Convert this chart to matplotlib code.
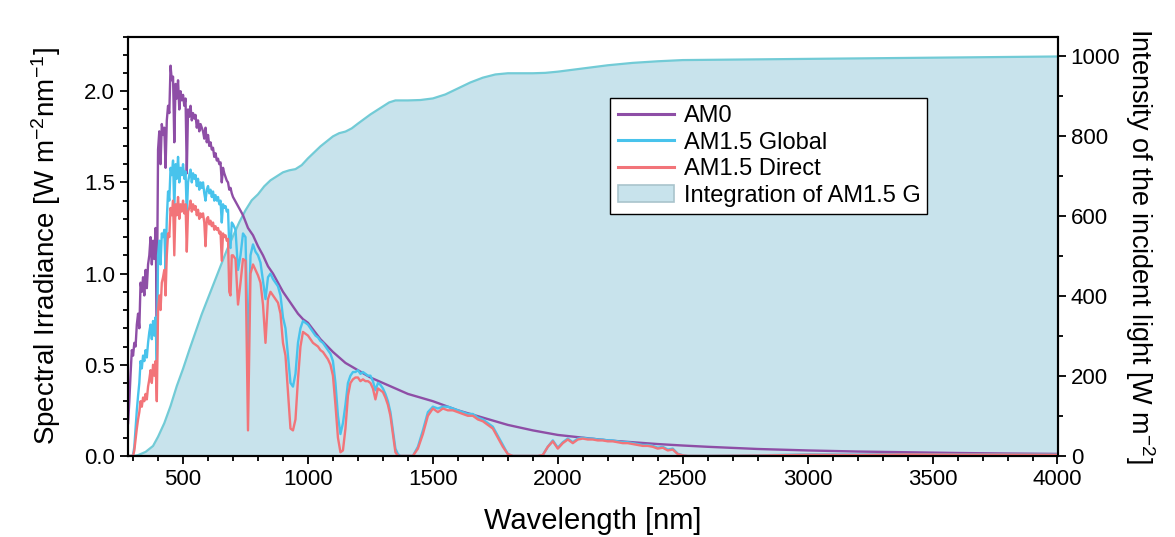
import matplotlib
matplotlib.use("Agg")
import matplotlib.pyplot as plt
from matplotlib.ticker import MultipleLocator
from matplotlib.patches import Patch

# wavelength grids [nm]
wl_vis = list(range(280, 701, 5))
wl_nir = list(range(710, 1401, 10))
wl_swir = list(range(1420, 2601, 20))
wl_ir = list(range(2800, 4001, 200))

# AM0 spectrum [W m-2 nm-1]
am0_vis = [0.18, 0.30, 0.45, 0.58, 0.55, 0.62, 0.60, 0.72, 0.78, 0.70,
           0.95, 0.90, 0.98, 0.88, 1.02, 0.92, 1.05, 1.10, 1.20, 1.05,
           1.18, 1.08, 1.25, 0.76, 1.68, 1.78, 1.60, 1.82, 1.76, 1.80,
           1.58, 1.84, 1.92, 1.88, 2.14, 2.06, 2.08, 1.72, 2.04, 1.96,
           2.06, 1.90, 2.00, 1.95, 1.98, 1.92, 1.96, 1.55, 1.90, 1.86,
           1.92, 1.84, 1.88, 1.85, 1.87, 1.80, 1.84, 1.78, 1.82, 1.80,
           1.78, 1.74, 1.80, 1.72, 1.76, 1.70, 1.72, 1.68, 1.69, 1.64,
           1.66, 1.62, 1.63, 1.60, 1.61, 1.50, 1.58, 1.55, 1.53, 1.51,
           1.50, 1.46, 1.47, 1.44, 1.42]
am0_tail_wl = [720, 740, 760, 780, 800, 820, 840, 860, 880, 900, 920, 940, 960, 980, 1000,
               1050, 1100, 1150, 1200, 1250, 1300, 1350, 1400, 1450, 1500,
               1600, 1700, 1800, 1900, 2000, 2100, 2200, 2300, 2400, 2500, 2600,
               2800, 3000, 3200, 3400, 3600, 3800, 4000]
am0_tail = [1.37, 1.32, 1.25, 1.21, 1.15, 1.10, 1.04, 1.00, 0.95, 0.90, 0.86, 0.82, 0.78, 0.75, 0.73,
            0.64, 0.57, 0.51, 0.47, 0.43, 0.40, 0.37, 0.34, 0.32, 0.30,
            0.25, 0.21, 0.17, 0.14, 0.115, 0.10, 0.085, 0.075, 0.065, 0.057, 0.05,
            0.038, 0.03, 0.024, 0.02, 0.016, 0.013, 0.011]

# AM1.5 Global
global_vis = [0, 0, 0, 0, 0.005, 0.05, 0.15, 0.25, 0.33, 0.40,
              0.52, 0.48, 0.55, 0.52, 0.58, 0.54, 0.62, 0.68, 0.72, 0.64,
              0.74, 0.66, 0.76, 0.48, 1.10, 1.18, 1.05, 1.22, 1.20, 1.24,
              1.02, 1.30, 1.45, 1.40, 1.58, 1.54, 1.62, 1.35, 1.60, 1.52,
              1.64, 1.50, 1.58, 1.54, 1.60, 1.52, 1.56, 1.32, 1.50, 1.54,
              1.57, 1.50, 1.55, 1.52, 1.54, 1.48, 1.52, 1.46, 1.50, 1.47,
              1.50, 1.44, 1.40, 1.46, 1.48, 1.44, 1.46, 1.42, 1.45, 1.40,
              1.43, 1.40, 1.42, 1.38, 1.40, 1.28, 1.38, 1.36, 1.37, 1.34,
              1.35, 1.15, 1.14, 1.28, 1.27]
global_nir = [1.24, 1.02, 1.10, 1.22, 1.20, 0.55, 1.10, 1.16, 1.12, 1.10,
              1.06, 0.96, 0.86, 0.98, 1.00, 0.97, 0.95, 0.93, 0.88, 0.76,
              0.70, 0.55, 0.40, 0.38, 0.45, 0.62, 0.70, 0.74, 0.73, 0.72,
              0.70, 0.68, 0.66, 0.65, 0.63, 0.62, 0.60, 0.58, 0.56, 0.52,
              0.40, 0.22, 0.12, 0.18, 0.28, 0.40, 0.44, 0.46, 0.46, 0.47,
              0.45, 0.46, 0.45, 0.44, 0.44, 0.41, 0.36, 0.40, 0.39, 0.37,
              0.34, 0.30, 0.24, 0.14, 0.04, 0.01, 0, 0, 0, 0]
global_swir = [0.0, 0.05, 0.14, 0.24, 0.27, 0.26, 0.27, 0.27, 0.26, 0.25,
               0.24, 0.23, 0.23, 0.21, 0.20, 0.18, 0.16, 0.11, 0.06, 0.01,
               0, 0, 0, 0, 0, 0, 0.005, 0.05, 0.085, 0.045,
               0.075, 0.095, 0.075, 0.095, 0.10, 0.095, 0.095, 0.09, 0.09, 0.085,
               0.085, 0.08, 0.075, 0.075, 0.07, 0.065, 0.06, 0.06, 0.055, 0.045,
               0.05, 0.035, 0.04, 0.012, 0.004, 0, 0, 0, 0, 0]
global_ir = [0.003, 0.008, 0.007, 0.009, 0.008, 0.008, 0.007]

# AM1.5 Direct
direct_vis = [0, 0, 0, 0, 0, 0.03, 0.09, 0.15, 0.20, 0.24,
              0.30, 0.27, 0.32, 0.30, 0.34, 0.31, 0.38, 0.42, 0.47, 0.40,
              0.50, 0.44, 0.52, 0.30, 0.80, 0.88, 0.80, 0.95, 0.98, 1.02,
              0.88, 1.10, 1.22, 1.20, 1.36, 1.32, 1.40, 1.10, 1.38, 1.32,
              1.42, 1.30, 1.38, 1.34, 1.40, 1.33, 1.38, 1.12, 1.34, 1.36,
              1.40, 1.34, 1.38, 1.35, 1.37, 1.32, 1.35, 1.30, 1.33, 1.31,
              1.33, 1.28, 1.15, 1.30, 1.31, 1.27, 1.29, 1.26, 1.28, 1.24,
              1.26, 1.24, 1.25, 1.22, 1.23, 1.07, 1.22, 1.20, 1.21, 1.18,
              1.19, 0.90, 0.88, 1.10, 1.10]
direct_nir = [1.08, 0.83, 0.95, 1.08, 1.07, 0.14, 1.00, 1.05, 1.02, 0.99,
              0.95, 0.83, 0.62, 0.86, 0.90, 0.88, 0.86, 0.84, 0.78, 0.62,
              0.55, 0.35, 0.15, 0.14, 0.20, 0.42, 0.60, 0.68, 0.67, 0.66,
              0.64, 0.62, 0.61, 0.60, 0.58, 0.57, 0.55, 0.53, 0.50, 0.44,
              0.28, 0.10, 0.02, 0.03, 0.15, 0.33, 0.40, 0.42, 0.43, 0.43,
              0.41, 0.42, 0.41, 0.41, 0.40, 0.37, 0.31, 0.37, 0.36, 0.35,
              0.32, 0.28, 0.22, 0.12, 0.02, 0, 0, 0, 0, 0]
direct_swir = [0.0, 0.04, 0.12, 0.22, 0.26, 0.24, 0.26, 0.25, 0.25, 0.24,
               0.23, 0.22, 0.22, 0.20, 0.19, 0.17, 0.15, 0.10, 0.05, 0.01,
               0, 0, 0, 0, 0, 0, 0.005, 0.05, 0.08, 0.04,
               0.07, 0.09, 0.07, 0.09, 0.095, 0.09, 0.09, 0.085, 0.085, 0.08,
               0.08, 0.075, 0.07, 0.07, 0.065, 0.06, 0.055, 0.055, 0.05, 0.04,
               0.045, 0.03, 0.035, 0.01, 0.003, 0, 0, 0, 0, 0]
direct_ir = [0.002, 0.006, 0.005, 0.008, 0.007, 0.007, 0.006]

# running integral of AM1.5 G [W m-2]
int_wl = [280, 300, 320, 350, 380, 400, 425, 450, 475, 500, 525, 550, 575, 600, 625,
          650, 675, 700, 725, 750, 775, 800, 825, 850, 875, 900, 925, 950, 975, 1000,
          1050, 1100, 1125, 1150, 1175, 1200, 1250, 1300, 1325, 1350, 1400, 1450, 1500,
          1550, 1600, 1650, 1700, 1750, 1800, 1850, 1900, 1950, 2000, 2050, 2100,
          2200, 2300, 2400, 2500, 3000, 3500, 4000]
int_val = [0, 0, 2, 10, 25, 48, 82, 125, 175, 218, 265, 310, 355, 395, 435,
           475, 515, 550, 585, 615, 640, 655, 675, 690, 700, 710, 715, 718, 728, 745,
           775, 800, 808, 812, 820, 832, 855, 875, 885, 890, 890, 891, 895,
           905, 920, 935, 947, 955, 958, 958, 958, 959, 962, 966, 970,
           978, 984, 988, 991, 994, 997, 1000]

atm_wl = wl_vis + wl_nir + wl_swir + wl_ir
am0_wl = wl_vis + am0_tail_wl
am0 = am0_vis + am0_tail
am15g = global_vis + global_nir + global_swir + global_ir
am15d = direct_vis + direct_nir + direct_swir + direct_ir

c_am0 = "#8e4ea6"
c_glob = "#48c3ec"
c_dir = "#f27479"
c_fill = "#c8e3ec"
c_fill_edge = "#72cbd6"

plt.rcParams["font.family"] = ["Liberation Sans", "DejaVu Sans"]
plt.rcParams["mathtext.fontset"] = "custom"
plt.rcParams["mathtext.rm"] = "Liberation Sans"
plt.rcParams["mathtext.it"] = "Liberation Sans:italic"
plt.rcParams["mathtext.default"] = "regular"

fig = plt.figure(figsize=(11.75, 5.37), dpi=100)
ax = fig.add_axes([0.109, 0.151, 0.791, 0.781])
ax2 = ax.twinx()

# integration on the right axis, drawn underneath the spectra
ax2.fill_between(int_wl, int_val, 0, facecolor=c_fill, edgecolor="none")
ax2.plot(int_wl, int_val, color=c_fill_edge, lw=1.6)
ax.set_zorder(ax2.get_zorder() + 1)
ax.patch.set_visible(False)

ax.plot(am0_wl, am0, color=c_am0, lw=1.7, label="AM0")
ax.plot(atm_wl, am15g, color=c_glob, lw=1.7, label="AM1.5 Global")
ax.plot(atm_wl, am15d, color=c_dir, lw=1.7, label="AM1.5 Direct")

ax.set_xlim(280, 4000)
ax.set_ylim(0, 2.3)
ax2.set_ylim(0, 1050)

ax.xaxis.set_major_locator(MultipleLocator(500))
ax.xaxis.set_minor_locator(MultipleLocator(100))
ax.yaxis.set_major_locator(MultipleLocator(0.5))
ax.yaxis.set_minor_locator(MultipleLocator(0.1))
ax.yaxis.set_major_formatter(plt.FormatStrFormatter("%.1f"))
ax2.yaxis.set_major_locator(MultipleLocator(200))
ax2.yaxis.set_minor_locator(MultipleLocator(100))

for a in (ax, ax2):
    for s in a.spines.values():
        s.set_linewidth(1.5)
    a.tick_params(which="both", direction="out", width=1.3, labelsize=16)
    a.tick_params(which="major", length=6)
    a.tick_params(which="minor", length=3.5)
ax.tick_params(top=False, right=False, which="both")

ax.set_xlabel("Wavelength [nm]", fontsize=21, labelpad=12)
ax.set_ylabel("Spectral Irradiance [W m$^{-2}$nm$^{-1}$]", fontsize=20, labelpad=15)
ax2.set_ylabel("Intensity of the incident light [W m$^{-2}$]", fontsize=19.5,
               rotation=270, va="bottom", labelpad=2)

handles, labels = ax.get_legend_handles_labels()
handles.append(Patch(facecolor=c_fill, edgecolor="#a9c4cc", lw=1.2))
labels.append("Integration of AM1.5 G")
leg = ax.legend(handles, labels, loc="upper left", bbox_to_anchor=(0.519, 0.854),
                fontsize=17, frameon=True, fancybox=False, framealpha=1,
                edgecolor="black", borderpad=0.3, labelspacing=0.2,
                handlelength=2.4, handletextpad=0.4, borderaxespad=0)
leg.get_frame().set_linewidth(1.0)
for h in leg.get_lines():
    h.set_linewidth(2.2)

fig.savefig("out.png", dpi=100)
